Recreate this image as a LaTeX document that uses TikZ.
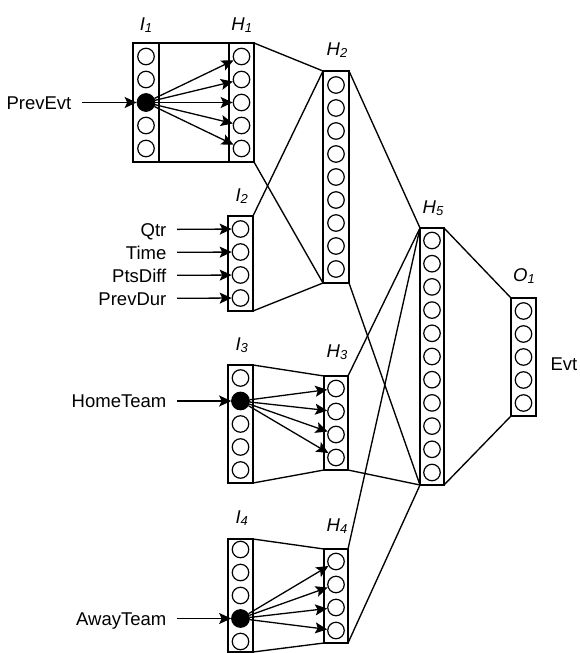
\documentclass[tikz,border=0pt]{standalone}
\usepackage{fontspec}
\setmainfont{Liberation Sans}
\usetikzlibrary{arrows.meta}
\newcommand{\nncol}[7]{% name, x, yc, w, h, n, spacing
  \node[colbox, minimum width=#4pt, minimum height=#5pt] (#1) at (#2,#3) {};
  \foreach \k in {1,...,#6} \node[cir] (#1-\k) at (#2, {#3 + #7*(\k-(#6+1)/2)}) {};
}
\newcommand{\nnlab}[2]{\textit{#1}\raisebox{-2.2pt}{\fontsize{13}{13}\selectfont\textit{#2}}}
\begin{document}
\begin{tikzpicture}[x=1pt,y=-1pt,line width=1.35pt,
  colbox/.style={draw, rectangle, inner sep=0pt, outer sep=0pt},
  cir/.style={draw, circle, minimum size=16.5pt, inner sep=0pt, line width=1.2pt},
  full/.style={fill=black, minimum size=17.5pt},
  lab/.style={inner sep=0pt, anchor=base, font=\fontsize{18.5}{21}\selectfont},
  inlab/.style={inner ysep=0pt, inner xsep=10pt, anchor=east, text height=13pt, text depth=0pt, font=\fontsize{18.5}{21}\selectfont},
  arr/.style={-{Stealth[length=12pt,width=11pt,inset=2.5pt]}, line width=1.3pt}]
\useasboundingbox (0,0) rectangle (579,653);
% columns
\nncol{I1}{146}{102.5}{26}{119}{5}{23}
\nncol{H1}{241.5}{102.5}{25}{119}{5}{23}
\nncol{H2}{336}{177}{26}{212}{9}{23}
\nncol{I2}{240.5}{263.5}{25}{95}{4}{23}
\nncol{I3}{240.5}{424}{25}{118}{5}{23}
\nncol{H3}{336}{423}{24}{94}{4}{23}
\nncol{I4}{240.5}{595.5}{25}{113}{5}{23}
\nncol{H4}{336}{596}{24}{94}{4}{23}
\nncol{H5}{432}{356.5}{24}{257}{11}{23.2}
\nncol{O1}{523.5}{357}{25}{118}{5}{23}
% filled input units
\node[cir, full] (fI1) at (I1-3) {};
\node[cir, full] (fI3) at (I3-2) {};
\node[cir, full] (fI4) at (I4-4) {};
% layer labels
\node[lab] (tI1) at (146,30) {\nnlab{I}{1}};
\node[lab] (tH1) at (241.7,30) {\nnlab{H}{1}};
\node[lab] (tH2) at (337,55) {\nnlab{H}{2}};
\node[lab] (tI2) at (241.7,201.5) {\nnlab{I}{2}};
\node[lab] (tI3) at (241.7,350) {\nnlab{I}{3}};
\node[lab] (tH3) at (337,357.3) {\nnlab{H}{3}};
\node[lab] (tI4) at (241.7,523.3) {\nnlab{I}{4}};
\node[lab] (tH4) at (337,531.7) {\nnlab{H}{4}};
\node[lab] (tH5) at (433,213.3) {\nnlab{H}{5}};
\node[lab] (tO1) at (524,281.7) {\nnlab{O}{1}};
\node[lab] (tEvt) at (564,370.7) {Evt};
% input labels
\node[inlab] (lPrev) at (82,102.5) {PrevEvt};
\node[inlab] (lQtr) at (177,229.5) {Qtr};
\node[inlab] (lTime) at (177,252.5) {Time};
\node[inlab] (lPts) at (177,275.5) {PtsDiff};
\node[inlab] (lDur) at (177,298.5) {PrevDur};
\node[inlab] (lHome) at (177,401) {HomeTeam};
\node[inlab] (lAway) at (177,618.5) {AwayTeam};
% input arrows
\draw[arr] (lPrev) -- (fI1);
\draw[arr] (lQtr) -- (I2-1);
\draw[arr] (lTime) -- (I2-2);
\draw[arr] (lPts) -- (I2-3);
\draw[arr] (lDur) -- (I2-4);
\draw[arr] (lHome) -- (fI3);
\draw[arr] (lAway) -- (fI4);
% fan-out arrows
\foreach \k in {1,...,5} \draw[arr] (fI1) -- (H1-\k);
\foreach \k in {1,...,4} \draw[arr] (fI3) -- (H3-\k);
\foreach \k in {1,...,4} \draw[arr] (fI4) -- (H4-\k);
% layer connections
\draw (I1.north east) -- (H1.north west) (I1.south east) -- (H1.south west);
\draw (I3.north east) -- (H3.north west) (I3.south east) -- (H3.south west);
\draw (I4.north east) -- (H4.north west) (I4.south east) -- (H4.south west);
\draw (H1.north east) -- (H2.north west) (H1.south east) -- (H2.south west);
\draw (I2.north east) -- (H2.north west) (I2.south east) -- (H2.south west);
\draw (H2.north east) -- (H5.north west) (H2.south east) -- (H5.south west);
\draw (H3.north east) -- (H5.north west) (H3.south east) -- (H5.south west);
\draw (H4.north east) -- (H5.north west) (H4.south east) -- (H5.south west);
\draw (H5.north east) -- (O1.north west) (H5.south east) -- (O1.south west);
\end{tikzpicture}
\end{document}
